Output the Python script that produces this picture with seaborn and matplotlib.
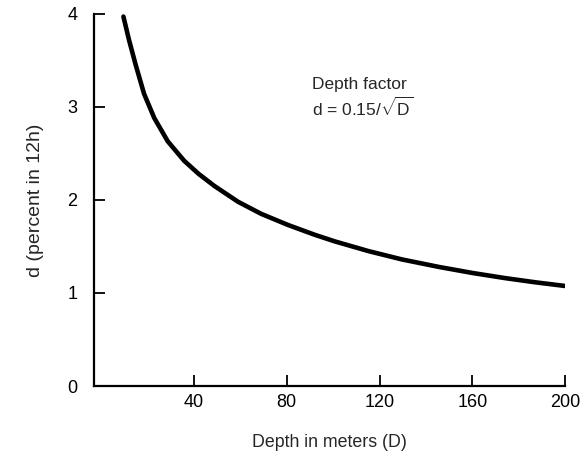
import matplotlib
matplotlib.use("Agg")
import matplotlib.pyplot as plt
import seaborn as sns
import pandas as pd

# values
depth_m = [9.6, 12, 14.9, 18.5, 22.9, 28.7, 35.8, 42, 48.8, 59, 69, 80.6, 92.1,
           100.6, 115.2, 129.7, 145.5, 160, 174, 187, 200]
depth_factor = [3.97, 3.72, 3.45, 3.14, 2.88, 2.63, 2.42, 2.28, 2.15, 1.98, 1.85, 1.73, 1.625,
                1.555, 1.45, 1.36, 1.28, 1.215, 1.16, 1.115, 1.075]

x_ticks = [40, 80, 120, 160, 200]
y_ticks = [0, 1, 2, 3, 4]

df = pd.DataFrame({"D": depth_m, "d": depth_factor})

sns.set_style("ticks")
plt.rcParams["font.family"] = ["Liberation Sans", "DejaVu Sans"]
plt.rcParams["mathtext.fontset"] = "custom"
plt.rcParams["mathtext.rm"] = "Liberation Sans"
plt.rcParams["mathtext.it"] = "Liberation Sans"

fig = plt.figure(figsize=(5.85, 4.59), dpi=100)
ax = fig.add_axes([0.161, 0.159, 0.805, 0.811])

sns.lineplot(data=df, x="D", y="d", color="black", linewidth=3.3, ax=ax,
             solid_capstyle="round", solid_joinstyle="round")

ax.set_xlim(-3, 200)
ax.set_ylim(0, 4)
ax.set_xticks(x_ticks)
ax.set_yticks(y_ticks)
ax.tick_params(axis="both", direction="in", length=8, width=1.3,
               labelsize=13, colors="black")
ax.tick_params(axis="y", pad=12)
ax.tick_params(axis="x", pad=6)

sns.despine(ax=ax)
for s in ["left", "bottom"]:
    ax.spines[s].set_linewidth(1.6)
    ax.spines[s].set_color("black")

ax.set_xlabel("Depth in meters (D)", fontsize=12.8, labelpad=16)
ax.set_ylabel("d (percent in 12h)", fontsize=14, labelpad=17)

ax.text(91, 3.24, "Depth factor", fontsize=12.5, va="center", ha="left")
ax.text(91, 2.99, r"d = 0.15/$\sqrt{\mathrm{D}}$", fontsize=12.5, va="center", ha="left")

fig.savefig("out.png", dpi=100)
